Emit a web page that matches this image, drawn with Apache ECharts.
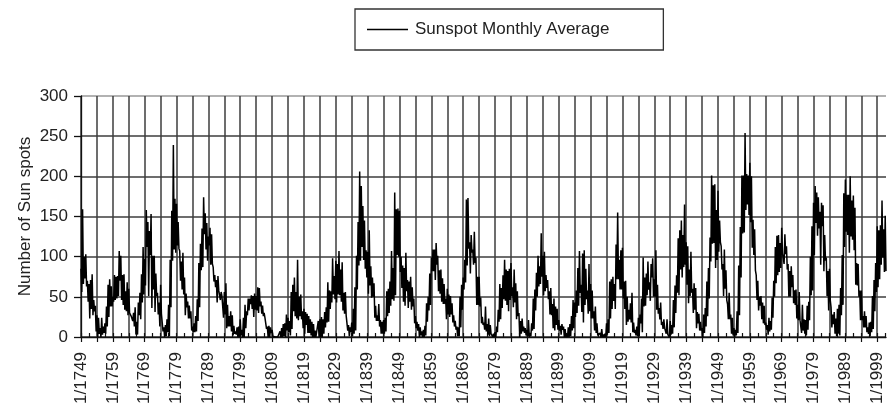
<!DOCTYPE html>
<html>
<head>
<meta charset="utf-8">
<script src="https://cdn.jsdelivr.net/npm/echarts@6/dist/echarts.min.js"></script>
<style>
html,body{margin:0;padding:0;background:#fff;}
#chart{width:887px;height:404px;}
</style>
</head>
<body>
<div id="chart"></div>
<script>
const firstYear = 1749;
const firstHalfHigh = [
85,100,70,71,46,27,11,13,38,72, 50,75,107,77,57,60,26,37,43,78,
97,143,153,101,55,65,12,22,96,239, 166,107,105,54,39,13,26,92,135,154,
125,128,77,76,56,56,40,32,14,12, 22,24,32,48,51,51,61,39,24,14,
9,0,0,11,17,24,56,74,96,53, 35,29,22,16,1,22,22,37,58,98,
95,107,93,56,15,18,62,143,188,145, 106,88,67,27,21,21,57,69,86,159,
157,89,105,69,62,26,16,7,14,50, 99,109,101,84,66,60,51,27,13,50,
74,171,118,109,99,75,25,38,23,6, 6,34,61,96,82,92,84,57,20,13,
9,5,48,80,88,101,77,57,41,38, 21,16,10,12,26,43,86,65,108,58,
66,32,17,5,3,17,69,75,115,96, 111,70,34,55,9,24,48,74,94,91,
72,65,43,22,22,20,46,77,133,127, 118,84,60,61,29,11,36,86,201,190,
182,113,109,41,28,11,32,137,201,203, 217,146,77,50,43,18,24,49,112,127,
136,128,91,88,58,40,19,22,39,100, 167,180,156,164,99,85,28,23,40,102,
196,177,170,161,91,58,32,12,19,71, 138,139,134
];
const firstHalfLow = [
56,73,44,35,32,0,0,5,13,38, 44,48,70,40,32,30,20,3,27,43,
64,51,36,31,28,29,0,6,37,109, 114,70,53,37,23,6,7,37,87,109,
114,91,62,58,51,28,13,7,4,0, 2,0,27,41,25,33,38,26,10,0,
1,0,0,0,0,6,10,26,21,22, 4,5,2,0,0,0,4,18,35,53,
43,52,33,27,1,1,8,89,112,85, 54,49,24,20,4,4,26,39,45,102,
81,44,57,44,38,11,0,0,2,33, 82,71,57,44,41,28,28,13,1,12,
59,89,79,90,40,38,15,7,1,0, 0,19,36,45,32,51,43,26,4,5,
1,1,10,50,66,52,61,28,11,15, 8,9,0,0,8,25,39,31,40,29,
23,8,2,0,0,3,23,45,72,59, 48,15,22,6,2,1,6,39,59,74,
50,29,15,11,3,3,12,55,84,87, 65,51,30,11,8,0,13,48,116,86,
106,84,60,22,4,0,5,74,130,165, 143,102,46,39,17,9,7,24,67,81,
104,103,50,62,40,21,5,4,9,52, 102,126,90,82,51,46,16,1,2,40,
131,105,121,65,50,21,12,4,6,32, 62,90,81
];
const secondHalfHigh = [
159,103,66,78,39,24,24,17,65,63, 77,76,101,78,68,30,30,19,55,112,
158,132,101,79,43,18,15,40,157,172, 143,94,74,44,32,17,47,116,174,142,
136,87,71,60,50,67,26,27,7,13, 9,40,48,52,54,62,44,30,13,12,
0,0,7,16,28,20,65,56,50,32, 31,26,19,8,20,25,31,68,57,76,
91,84,55,28,12,35,101,206,163,108, 133,74,39,41,19,24,60,107,180,160,
100,86,71,75,48,19,12,9,42,79, 109,117,83,73,48,53,42,20,12,65,
96,173,127,131,75,49,18,16,15,4, 13,66,77,84,85,62,67,30,23,11,
21,17,59,101,129,106,71,61,48,35, 14,13,4,16,46,58,107,104,85,91,
58,38,4,10,4,22,72,66,155,108, 69,50,42,18,13,28,99,79,68,98,
108,36,19,11,5,15,64,123,145,165, 113,106,67,31,19,28,69,124,189,158,
145,91,83,55,24,9,89,201,254,201, 200,134,70,51,39,15,20,70,126,117,
98,113,82,77,59,56,40,21,44,138, 188,174,167,127,82,37,31,35,61,179,
177,200,176,92,58,26,26,18,51,92, 133,170,151
];
const secondHalfLow = [
66,63,23,27,7,4,3,4,25,38, 46,51,46,34,27,26,13,3,22,53,
112,102,59,51,13,7,1,1,95,105, 110,59,27,23,8,6,20,83,128,95,
90,69,43,46,24,11,13,2,3,0, 0,11,33,35,34,30,29,24,0,5,
0,0,0,1,8,2,32,23,26,11, 15,5,0,0,0,0,12,19,43,47,
53,44,29,8,6,4,59,95,96,74, 64,50,20,13,4,7,30,47,52,100,
61,39,36,34,17,8,2,0,19,40, 82,90,54,41,22,25,18,9,1,34,
68,110,105,92,40,17,9,3,4,0, 6,22,47,40,46,37,22,0,7,2,
0,8,33,63,75,57,47,27,8,9, 3,0,0,1,11,30,55,18,47,32,
23,5,2,0,0,5,35,35,72,59, 35,19,18,5,1,17,38,52,45,50,
34,22,10,4,0,4,30,52,74,90, 42,55,34,17,8,5,26,94,117,96,
118,51,46,22,2,2,27,129,158,152, 111,83,33,22,15,3,9,50,77,86,
91,84,50,42,23,21,8,2,21,58, 142,135,138,95,33,12,4,4,27,112,
127,125,108,64,21,12,6,1,10,56, 72,99,82
];
const quarterMonths = [1, 4, 7, 10];
const yTickValues = [0, 50, 100, 150, 200, 250, 300];
const seriesName = 'Sunspot Monthly Average';
const yAxisTitle = 'Number of Sun spots';

const categories = [];
const values = [];
for (let i = 0; i < firstHalfHigh.length; i++) {
  const y = firstYear + i;
  quarterMonths.forEach(m => categories.push(m + '/' + y));
  values.push(firstHalfHigh[i], firstHalfLow[i], secondHalfHigh[i], secondHalfLow[i]);
}

const FONT = '"Liberation Sans", Arial, sans-serif';
const chart = echarts.init(document.getElementById('chart'), null, {renderer: 'canvas'});
const gridCol = '#3c3c3c';
chart.setOption({
  animation: false,
  backgroundColor: '#fff',
  textStyle: {fontFamily: FONT},
  legend: {
    show: true,
    left: 355, top: 9,
    padding: [12, 54, 12, 12],
    borderColor: '#333', borderWidth: 1.3,
    icon: 'rect', itemWidth: 41, itemHeight: 1.5,
    textStyle: {fontFamily: FONT, fontSize: 17, color: '#222', padding: [0, 0, 0, 2]},
    data: [{name: seriesName, itemStyle: {color: '#000'}}]
  },
  grid: {left: 81, right: 1, top: 96, bottom: 67, containLabel: false, outerBoundsMode: 'none'},
  xAxis: [{
    type: 'category',
    data: categories,
    boundaryGap: false,
    axisLine: {show: true, lineStyle: {color: '#111', width: 1.3}},
    axisTick: {show: true, inside: true, interval: 9, length: 4, lineStyle: {color: '#111', width: 1.2}},
    axisLabel: {interval: 39, rotate: 90, fontSize: 17, color: '#222', fontFamily: FONT, margin: 15},
    splitLine: {show: true, interval: 19, lineStyle: {color: gridCol, width: 1.5}}
  }, {
    type: 'category',
    data: categories,
    boundaryGap: false,
    position: 'bottom',
    axisLine: {show: false},
    axisTick: {show: true, inside: false, interval: 19, length: 5, lineStyle: {color: '#111', width: 1.2}},
    axisLabel: {show: false},
    splitLine: {show: false}
  }],
  yAxis: {
    type: 'value',
    min: yTickValues[0], max: yTickValues[yTickValues.length - 1],
    interval: yTickValues[1] - yTickValues[0],
    name: yAxisTitle,
    nameLocation: 'middle',
    nameRotate: 90,
    nameGap: 47,
    nameMoveOverlap: false,
    nameTextStyle: {fontSize: 17, color: '#222', fontFamily: FONT},
    axisLine: {show: true, lineStyle: {color: '#111', width: 1.3}},
    axisTick: {show: true, length: 7, lineStyle: {color: '#111', width: 1.3}},
    axisLabel: {fontSize: 17, color: '#222', fontFamily: FONT, margin: 13},
    splitLine: {show: true, lineStyle: {color: [gridCol, gridCol, gridCol, gridCol, gridCol, gridCol, '#999'], width: 1.5}}
  },
  series: [{
    name: seriesName,
    type: 'line',
    xAxisIndex: 0,
    data: values,
    symbol: 'none',
    sampling: false,
    lineStyle: {color: '#000', width: 1.5},
    itemStyle: {color: '#000'}
  }]
});
</script>
</body>
</html>
